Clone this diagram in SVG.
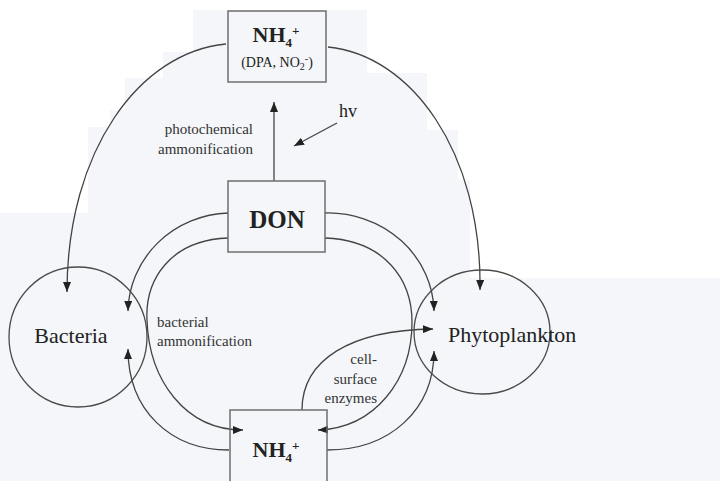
<svg xmlns="http://www.w3.org/2000/svg" width="720" height="481" viewBox="0 0 720 481">
<style>
.bg{fill:#f4f6f9}
.box{fill:none;stroke:#6f6f6f;stroke-width:1.5}
.node{fill:none;stroke:#4a4a4a;stroke-width:1.3}
.c{fill:none;stroke:#444;stroke-width:1.3}
.a{marker-end:url(#ah)}
text{font-family:"Liberation Serif","Times New Roman",serif;fill:#222}
.big{font-size:22px}
.bold{font-weight:bold}
.sm{font-size:15px;fill:#333}
</style>
<defs>
<marker id="ah" markerUnits="userSpaceOnUse" markerWidth="11" markerHeight="8" refX="10" refY="4" orient="auto">
<path d="M0,0 L10,4 L0,8 z" fill="#222"/>
</marker>
</defs>
<rect width="720" height="481" fill="#fff"/>
<polygon class="bg" points="193,10 367,10 367,73 427,73 427,130 458,130 458,180 470,180 470,278 720,278 720,481 0,481 0,213 88,213 88,127 110,127 110,110 125,110 125,78 163,78 163,52 193,52"/>

<g id="connectors">
<path class="c a" d="M274,181 L274,102"/>
<path class="c a" d="M337,123 L294,146"/>
<path class="c a" d="M226,44 C140,52 67,150 67,292"/>
<path class="c a" d="M328,47 C410,55 482,150 480,290"/>
<path class="c a" d="M228,213 A104,100 0 0 0 128,311"/>
<path class="c a" d="M325,213 A106,100 0 0 1 434,311"/>
<path class="c a" d="M228,238 C170,240 145,280 147,320 C149,380 185,430 243,430"/>
<path class="c a" d="M325,238 C385,240 412,280 412,322 C412,380 375,428 318,430"/>
<path class="c a" d="M229,450 C170,450 128,410 128,349"/>
<path class="c a" d="M327,450 C390,450 434,410 434,351"/>
<path class="c a" d="M302,410 C302,360 350,330 433,329"/>
</g>

<g id="nh4-top">
<rect class="box" x="228" y="11" width="98" height="71" fill="none"/>
<text class="bold" x="276" y="42" text-anchor="middle" font-size="22">NH<tspan font-size="13" dy="5">4</tspan><tspan font-size="13" dy="-12">+</tspan></text>
<text x="277" y="67" text-anchor="middle" font-size="14">(DPA, NO<tspan font-size="10" dy="3">2</tspan><tspan font-size="10" dy="-8">-</tspan><tspan dy="5">)</tspan></text>
</g>

<g id="hv">
<text x="339" y="117" font-size="18">hv</text>
</g>

<g id="photo-label">
<text class="sm" x="253" y="134" text-anchor="end">photochemical</text>
<text class="sm" x="253" y="154" text-anchor="end">ammonification</text>
</g>

<g id="don">
<rect class="box" x="228" y="181" width="97" height="71"/>
<text class="bold" x="277" y="228" text-anchor="middle" font-size="25">DON</text>
</g>

<g id="bacteria">
<ellipse class="node" cx="78" cy="337" rx="69" ry="70"/>
<text class="big" x="71" y="343" text-anchor="middle">Bacteria</text>
</g>

<g id="phytoplankton">
<ellipse class="node" cx="482" cy="332" rx="68" ry="62"/>
<text class="big" x="448" y="342">Phytoplankton</text>
</g>

<g id="bact-label">
<text class="sm" x="157" y="327">bacterial</text>
<text class="sm" x="157" y="346">ammonification</text>
</g>

<g id="cell-label">
<text class="sm" x="377" y="364" text-anchor="end">cell-</text>
<text class="sm" x="377" y="384" text-anchor="end">surface</text>
<text class="sm" x="377" y="403" text-anchor="end">enzymes</text>
</g>

<g id="nh4-bottom">
<rect class="box" x="230" y="410" width="97" height="80"/>
<text class="bold" x="276" y="457" text-anchor="middle" font-size="22">NH<tspan font-size="13" dy="5">4</tspan><tspan font-size="13" dy="-12">+</tspan></text>
</g>
</svg>
